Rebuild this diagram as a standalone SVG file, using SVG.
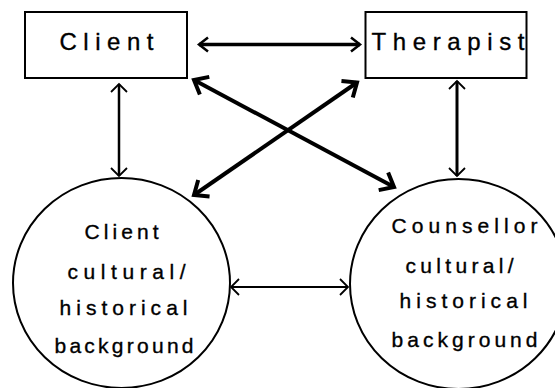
<svg xmlns="http://www.w3.org/2000/svg" width="555" height="388" viewBox="0 0 555 388">
<style>
.box{fill:#fff;stroke:#000;stroke-width:2}
.circ{fill:#fff;stroke:#000;stroke-width:2}
.t{font-family:"Liberation Sans",Arial,sans-serif;fill:#000;stroke:#000;stroke-width:0.35;text-anchor:middle}
.tb{font-size:24px}
.tc{font-size:21px}
.c{fill:none;stroke:#000;stroke-linecap:butt}
</style>
<defs>
<marker id="hBold" viewBox="-14 -12 18 24" refX="0" refY="0" markerWidth="18" markerHeight="24" markerUnits="userSpaceOnUse" orient="auto-start-reverse">
<path d="M-9,-7 L0,0 L-9,7" fill="none" stroke="#000" stroke-width="2.5"/>
</marker>
<marker id="hThin" viewBox="-14 -12 18 24" refX="0" refY="0" markerWidth="18" markerHeight="24" markerUnits="userSpaceOnUse" orient="auto-start-reverse">
<path d="M-8,-8 L0,0 L-8,8" fill="none" stroke="#000" stroke-width="1.8"/>
</marker>
<marker id="hDiag" viewBox="-18 -14 22 28" refX="0" refY="0" markerWidth="22" markerHeight="28" markerUnits="userSpaceOnUse" orient="auto-start-reverse">
<path d="M-12,-10 L0,0 L-12,10" fill="none" stroke="#000" stroke-width="4"/>
</marker>
</defs>
<g id="connectors">
<line class="c" x1="199" y1="44.5" x2="360" y2="44.5" stroke-width="3.5" marker-start="url(#hBold)" marker-end="url(#hBold)"/>
<line class="c" x1="119" y1="84" x2="119" y2="176" stroke-width="2.5" marker-start="url(#hThin)" marker-end="url(#hThin)"/>
<line class="c" x1="457" y1="81" x2="457" y2="176" stroke-width="3" marker-start="url(#hThin)" marker-end="url(#hThin)"/>
<line class="c" x1="194" y1="80" x2="394" y2="187" stroke-width="4" marker-start="url(#hDiag)" marker-end="url(#hDiag)"/>
<line class="c" x1="357" y1="82.5" x2="194" y2="195" stroke-width="4" marker-start="url(#hDiag)" marker-end="url(#hDiag)"/>
<line class="c" x1="231" y1="287" x2="348" y2="287" stroke-width="2" marker-start="url(#hThin)" marker-end="url(#hThin)"/>
</g>
<g id="client">
<rect class="box" x="25" y="12" width="162" height="66"/>
<text class="t tb" x="106.5" y="50" textLength="94" lengthAdjust="spacing">Client</text>
</g>
<g id="therapist">
<rect class="box" x="365.5" y="12" width="161" height="66"/>
<text class="t tb" x="448" y="50" textLength="153" lengthAdjust="spacing">Therapist</text>
</g>
<g id="client-background">
<ellipse class="circ" cx="121.5" cy="283" rx="108.5" ry="105"/>
<text class="t tc" x="121.5" y="239" textLength="74" lengthAdjust="spacing">Client</text>
<text class="t tc" x="126.5" y="279" textLength="118" lengthAdjust="spacing">cultural/</text>
<text class="t tc" x="123.5" y="315" textLength="128" lengthAdjust="spacing">historical</text>
<text class="t tc" x="124" y="353" textLength="139" lengthAdjust="spacing">background</text>
</g>
<g id="counsellor-background">
<ellipse class="circ" cx="458.5" cy="284" rx="108.5" ry="105"/>
<text class="t tc" x="464.5" y="233" textLength="146" lengthAdjust="spacing">Counsellor</text>
<text class="t tc" x="459.5" y="273" textLength="108" lengthAdjust="spacing">cultural/</text>
<text class="t tc" x="463.5" y="308" textLength="128" lengthAdjust="spacing">historical</text>
<text class="t tc" x="464.5" y="347" textLength="146" lengthAdjust="spacing">background</text>
</g>
</svg>
